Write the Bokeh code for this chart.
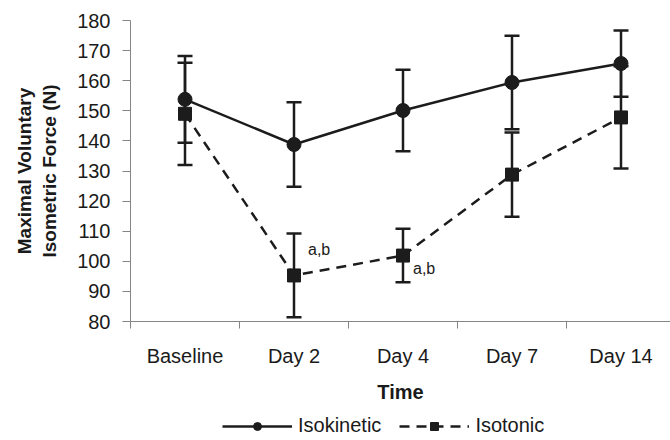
from bokeh.plotting import figure
from bokeh.layouts import column
from bokeh.models import (ColumnDataSource, Range1d, FixedTicker, Whisker, TeeHead,
                          Legend, LegendItem)
from bokeh.core.properties import value
from bokeh.embed import file_html
from bokeh.resources import INLINE

categories = ["Baseline", "Day 2", "Day 4", "Day 7", "Day 14"]
isokinetic = [153.8, 138.8, 150.1, 159.4, 165.7]
isokinetic_err = [14.4, 14.0, 13.5, 15.5, 11.0]
isotonic = [149.0, 95.3, 101.9, 128.8, 147.8]
isotonic_err = [17.0, 13.9, 8.9, 14.0, 17.0]
annot_cats = ["Day 2", "Day 4"]
annot_vals = [103.9, 97.6]
annot_text = ["a,b", "a,b"]
series_names = ["Isokinetic", "Isotonic"]

FONT = "Liberation Sans"
TXT = "#1a1a1a"
AX = "#858585"
COL = "#1c1c1c"

xpos = [i + 0.5 for i in range(len(categories))]

p = figure(output_backend="svg", toolbar_location=None,
           frame_width=540, frame_height=301,
           x_range=Range1d(0, 540 / 109), y_range=Range1d(80, 180),
           min_border_left=130, min_border_top=20, min_border_bottom=0,
           min_border_right=0)
p.outline_line_color = None
p.xgrid.grid_line_color = None
p.ygrid.grid_line_color = None
p.background_fill_color = "white"
p.border_fill_color = "white"

xa = p.xaxis[0]
xa.ticker = FixedTicker(ticks=xpos, minor_ticks=list(range(len(categories) + 1)))
xa.major_label_overrides = {x: c for x, c in zip(xpos, categories)}
xa.major_tick_line_color = None
xa.major_tick_out = 7
xa.minor_tick_in = 0
xa.minor_tick_out = 7
xa.minor_tick_line_color = AX
xa.axis_line_color = AX
xa.major_label_text_font = FONT
xa.major_label_text_font_size = "20px"
xa.major_label_text_color = TXT
xa.major_label_standoff = 16
xa.axis_label = "Time"
xa.axis_label_text_font = FONT
xa.axis_label_text_font_style = "bold"
xa.axis_label_text_font_size = "20px"
xa.axis_label_text_color = TXT
xa.axis_label_standoff = 11

ya = p.yaxis[0]
ya.ticker = FixedTicker(ticks=list(range(80, 181, 10)))
ya.minor_tick_line_color = None
ya.major_tick_in = 0
ya.major_tick_out = 8
ya.major_tick_line_color = AX
ya.axis_line_color = AX
ya.major_label_text_font = FONT
ya.major_label_text_font_size = "20px"
ya.major_label_text_color = TXT
ya.major_label_standoff = 12
ya.axis_label = "Maximal Voluntary\nIsometric Force (N)"
ya.axis_label_text_font = FONT
ya.axis_label_text_font_style = "bold"
ya.axis_label_text_font_size = "19px"
ya.axis_label_text_color = TXT
ya.axis_label_standoff = 14

src = ColumnDataSource(dict(
    x=xpos,
    iso_k=isokinetic,
    iso_k_up=[v + e for v, e in zip(isokinetic, isokinetic_err)],
    iso_k_lo=[v - e for v, e in zip(isokinetic, isokinetic_err)],
    iso_t=isotonic,
    iso_t_up=[v + e for v, e in zip(isotonic, isotonic_err)],
    iso_t_lo=[v - e for v, e in zip(isotonic, isotonic_err)],
))

for up, lo in (("iso_k_up", "iso_k_lo"), ("iso_t_up", "iso_t_lo")):
    w = Whisker(base="x", upper=up, lower=lo, source=src,
                line_color=COL, line_width=2.5,
                upper_head=TeeHead(size=15, line_color=COL, line_width=2.5),
                lower_head=TeeHead(size=15, line_color=COL, line_width=2.5))
    p.add_layout(w)

p.line("x", "iso_k", source=src, line_color=COL, line_width=2.5)
p.line("x", "iso_t", source=src, line_color=COL, line_width=2.5, line_dash="10 7")
p.scatter("x", "iso_k", source=src, marker="circle", size=14,
          fill_color=COL, line_color=COL)
p.scatter("x", "iso_t", source=src, marker="square", size=13,
          fill_color=COL, line_color=COL)

ax_ = [categories.index(c) + 0.5 for c in annot_cats]
p.text(x=ax_, y=annot_vals, text=annot_text, x_offset=[14, 10],
       text_font=value(FONT), text_font_size="16px", text_color=TXT,
       text_baseline="middle", text_align="left")

# legend strip: a small axis-less figure; its renderers reuse the series data,
# which lies outside this strip's ranges, so only the legend is visible
lf = figure(output_backend="svg", toolbar_location=None, width=670, height=32,
            x_range=Range1d(0, 1), y_range=Range1d(0, 1),
            x_axis_type=None, y_axis_type=None, min_border=0)
lf.outline_line_color = None
lf.xgrid.grid_line_color = None
lf.ygrid.grid_line_color = None
glk = lf.line("x", "iso_k", source=src, line_color=COL, line_width=2.5)
gmk = lf.scatter("x", "iso_k", source=src, marker="circle", size=14,
                 fill_color=COL, line_color=COL)
glt = lf.line("x", "iso_t", source=src, line_color=COL, line_width=2.5, line_dash="10 7")
gmt = lf.scatter("x", "iso_t", source=src, marker="square", size=13,
                 fill_color=COL, line_color=COL)
legend = Legend(items=[LegendItem(label=series_names[0], renderers=[glk, gmk]),
                       LegendItem(label=series_names[1], renderers=[glt, gmt])],
                orientation="horizontal", location=(92, 0),
                glyph_width=70, glyph_height=20, label_height=20, spacing=18,
                label_text_font=FONT, label_text_font_size="20px",
                label_text_color=TXT, border_line_color=None,
                background_fill_alpha=0, padding=2, margin=0, label_standoff=6)
lf.add_layout(legend, "center")

layout = column(p, lf, spacing=0)
open("out.html", "w").write(file_html(layout, INLINE))
